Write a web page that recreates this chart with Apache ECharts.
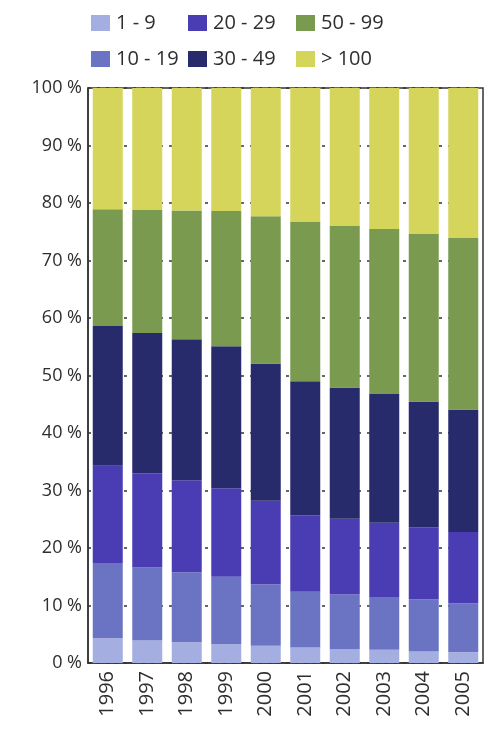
<!DOCTYPE html>
<html>
<head>
<meta charset="utf-8">
<script src="https://cdn.jsdelivr.net/npm/echarts@6/dist/echarts.min.js"></script>
<style>
  html, body { margin: 0; padding: 0; background: #fff; }
  #main { width: 500px; height: 731px; }
</style>
</head>
<body>
<div id="main"></div>
<script>
// 数据
var years = ['1996', '1997', '1998', '1999', '2000', '2001', '2002', '2003', '2004', '2005'];
var names = ['1 - 9', '10 - 19', '20 - 29', '30 - 49', '50 - 99', '> 100'];
var s1_9    = [4.3, 3.9, 3.6, 3.3, 3.0, 2.7, 2.4, 2.3, 2.0, 1.9];
var s10_19  = [13.1, 12.7, 12.2, 11.7, 10.7, 9.7, 9.5, 9.2, 9.1, 8.5];
var s20_29  = [16.9, 16.4, 16.0, 15.4, 14.5, 13.3, 13.2, 12.9, 12.5, 12.4];
var s30_49  = [24.3, 24.4, 24.5, 24.7, 23.9, 23.3, 22.8, 22.4, 21.9, 21.3];
var s50_99  = [20.3, 21.4, 22.4, 23.5, 25.6, 27.8, 28.2, 28.7, 29.1, 29.8];
var s100    = [21.1, 21.2, 21.3, 21.4, 22.3, 23.2, 23.9, 24.5, 25.4, 26.1];
var yTicks  = [0, 10, 20, 30, 40, 50, 60, 70, 80, 90, 100];

var colors = ['#a5aee0', '#6b74c2', '#4a3db4', '#272a6b', '#7a9a50', '#d5d55c'];
var values = [s1_9, s10_19, s20_29, s30_49, s50_99, s100];
var font = '"Open Sans", sans-serif';

var myChart = echarts.init(document.getElementById('main'));

function legendCol (left, data) {
  return {
    orient: 'vertical',
    left: left,
    top: 8,
    itemWidth: 19,
    itemHeight: 16,
    itemGap: 16,
    icon: 'rect',
    selectedMode: false,
    data: data,
    textStyle: { fontFamily: font, fontSize: 20, color: '#2e2e2e', padding: [0, 0, 0, 1] }
  };
}

var series = names.map(function (n, i) {
  return {
    name: n,
    type: 'bar',
    stack: 'total',
    barWidth: 30,
    itemStyle: { color: colors[i] },
    data: values[i]
  };
});

var option = {
  animation: false,
  backgroundColor: '#fff',
  color: colors,
  legend: [
    legendCol(86, [names[0], names[1]]),
    legendCol(183, [names[2], names[3]]),
    legendCol(291, [names[4], names[5]])
  ],
  grid: {
    left: 88, right: 17, top: 88, bottom: 68,
    show: true, borderColor: '#333', borderWidth: 1.5, backgroundColor: 'transparent'
  },
  xAxis: {
    type: 'category',
    data: years,
    axisLine: { lineStyle: { color: '#333', width: 1.5 } },
    axisTick: { inside: true, length: 9, lineStyle: { color: '#333', width: 1.5 } },
    axisLabel: { rotate: 90, margin: 8, fontFamily: font, fontSize: 20, color: '#2e2e2e' }
  },
  yAxis: {
    type: 'value',
    min: yTicks[0],
    max: yTicks[yTicks.length - 1],
    interval: 10,
    axisLine: { show: true, lineStyle: { color: '#333', width: 1.5 } },
    axisTick: { show: false },
    axisLabel: {
      margin: 6, fontFamily: font, fontSize: 18, color: '#2e2e2e',
      formatter: function (v) { return v + ' %'; }
    },
    splitLine: { show: true, lineStyle: { color: '#333', width: 1.5, type: [3, 6] } }
  },
  series: series
};

myChart.setOption(option);
</script>
</body>
</html>
